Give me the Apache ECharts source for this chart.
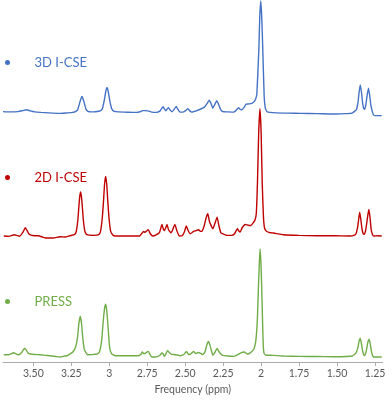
<!DOCTYPE html>
<html>
<head>
<meta charset="utf-8">
<script src="https://cdn.jsdelivr.net/npm/echarts@6/dist/echarts.min.js"></script>
<style>
html,body{margin:0;padding:0;background:#fff;}
#chart{width:392px;height:400px;}
</style>
</head>
<body>
<div id="chart"></div>
<script>
// Series names (top to bottom)
const seriesNames = ['3D I-CSE', '2D I-CSE', 'PRESS'];
// Tick positions (ppm) and their labels
const tickValues = [3.5, 3.25, 3, 2.75, 2.5, 2.25, 2, 1.75, 1.5, 1.25];
const tickLabels = ['3.50', '3.25', '3', '2.75', '2.50', '2.25', '2', '1.75', '1.50', '1.25'];

// Spectra: [ppm, intensity above the trace's own baseline] (arbitrary units)
const spec3D = [
  [3.70,0.8],[3.66,0.5],[3.60,0.8],[3.57,1.8],[3.545,2.7],[3.52,1.5],[3.49,0.5],[3.45,0],[3.40,-0.5],[3.33,-1],
  [3.28,-0.5],[3.24,0],[3.22,1],[3.207,3],[3.196,9],[3.186,14],[3.180,16],[3.174,14],[3.164,9],[3.153,3],
  [3.14,1],[3.12,0.5],[3.09,0.7],[3.06,1.5],[3.045,4],[3.033,12],[3.022,22],[3.015,25],[3.008,22],[2.997,12],
  [2.985,4],[2.968,1],[2.94,0.5],[2.88,0.2],[2.82,0],[2.80,0.5],[2.78,1.7],[2.765,1.8],[2.745,1.5],[2.72,0.3],
  [2.69,0],[2.665,1.5],[2.655,4],[2.645,5.7],[2.635,3],[2.627,1.7],[2.618,3.5],[2.610,4.7],[2.600,2.5],[2.588,0.7],
  [2.575,2.5],[2.559,6],[2.548,3],[2.535,0.3],[2.51,0.5],[2.495,2],[2.482,3.7],[2.470,1.5],[2.456,0.3],[2.44,1],
  [2.423,1.7],[2.40,3.3],[2.375,5],[2.355,9],[2.342,12.3],[2.330,9],[2.318,4.3],[2.305,8],[2.292,11.7],[2.28,8],
  [2.265,2.5],[2.252,0.7],[2.22,0.5],[2.182,0.3],[2.165,2],[2.149,4.7],[2.138,3],[2.127,2.7],[2.112,5],[2.099,8.3],
  [2.080,8.5],[2.061,9],[2.045,11],[2.035,14],[2.028,19],[2.015,63],[2.009,96],[2.002,112],[1.996,96],[1.989,63],
  [1.980,16],[1.972,4],[1.960,0.5],[1.90,-0.5],[1.82,-0.8],[1.74,-1],[1.63,-1.3],[1.52,-1.7],[1.45,-1.3],[1.40,-0.7],
  [1.385,1],[1.372,3],[1.362,10],[1.355,20],[1.347,27.7],[1.339,20],[1.332,10],[1.325,4],[1.318,3],[1.310,8],
  [1.302,17],[1.293,24.3],[1.285,17],[1.277,7],[1.268,1],[1.260,-2.5],[1.245,-3.3],[1.23,-3.3],[1.206,-3.3]
];
const spec2D = [
  [3.695,-0.3],[3.662,-0.7],[3.640,0.3],[3.625,1],[3.605,0],[3.590,-0.5],[3.575,2],[3.562,5.5],[3.553,8],[3.543,5.5],
  [3.530,2],[3.515,0.5],[3.49,0],[3.465,0],[3.44,-1.5],[3.421,-2.3],[3.37,-2.3],[3.322,-1],[3.29,-1.3],[3.26,0],
  [3.230,1],[3.218,4],[3.207,16],[3.199,32],[3.194,40],[3.189,44],[3.184,40],[3.179,32],[3.171,16],[3.160,4],
  [3.148,1],[3.10,0.3],[3.070,1],[3.058,4],[3.046,18],[3.038,35],[3.031,52],[3.024,59.7],[3.017,52],[3.010,35],
  [3.002,18],[2.992,5],[2.978,1],[2.961,-0.3],[2.90,-0.3],[2.80,-0.3],[2.785,2.5],[2.774,4.3],[2.765,3.5],[2.753,5],
  [2.743,6],[2.730,2],[2.712,-0.3],[2.695,0.5],[2.670,3],[2.653,11.3],[2.643,6],[2.636,5.3],[2.628,8],[2.620,11.3],
  [2.610,6],[2.594,3],[2.585,5],[2.568,11.3],[2.555,5],[2.539,-0.3],[2.520,0],[2.505,4],[2.493,9.7],[2.480,5],
  [2.467,2],[2.456,3],[2.445,4.3],[2.430,5],[2.412,6],[2.400,4.3],[2.390,4.3],[2.375,10],[2.362,18],[2.351,22],
  [2.340,14],[2.318,7],[2.305,12],[2.290,18.7],[2.278,10],[2.265,3],[2.255,2],[2.225,0.3],[2.193,0.3],[2.175,2],
  [2.156,7],[2.145,4.5],[2.138,3.7],[2.125,8],[2.105,11.3],[2.085,10.5],[2.068,10.3],[2.050,13.5],[2.040,16],[2.032,22],
  [2.024,54],[2.016,104],[2.008,127.7],[2.000,104],[1.993,54],[1.985,20],[1.978,8],[1.965,4.5],[1.94,3],[1.919,2.7],
  [1.853,1],[1.75,0.3],[1.634,0],[1.52,0],[1.414,-0.3],[1.390,0.3],[1.375,2],[1.365,8],[1.358,16],[1.351,23.7],
  [1.343,16],[1.336,7],[1.328,2],[1.320,1.5],[1.312,5],[1.304,13],[1.297,21],[1.290,26.3],[1.282,17],[1.275,6],
  [1.266,1],[1.258,-0.3],[1.23,0],[1.206,-0.3]
];
const specPRESS = [
  [3.695,0.3],[3.66,0.3],[3.630,2.3],[3.612,1],[3.597,0.3],[3.580,2],[3.567,5],[3.557,7],[3.547,5],[3.535,2],
  [3.520,1],[3.49,0.5],[3.454,0.3],[3.42,-0.3],[3.388,-0.7],[3.35,-1.5],[3.322,-2],[3.295,-1],[3.278,-0.7],[3.26,1],
  [3.24,3],[3.222,8],[3.209,18],[3.200,32],[3.191,39],[3.183,32],[3.175,18],[3.165,6],[3.150,1.5],[3.140,0.3],
  [3.10,0.7],[3.081,1],[3.065,3],[3.050,15],[3.040,34],[3.031,47],[3.024,51],[3.017,45],[3.008,28],[2.998,8],
  [2.985,1.5],[2.961,-0.7],[2.90,-0.7],[2.807,-0.7],[2.790,1],[2.783,3],[2.774,1.5],[2.765,1.5],[2.753,3],[2.743,3.7],
  [2.730,0],[2.719,-2],[2.700,-2],[2.680,-1.3],[2.665,0],[2.653,2],[2.645,1],[2.638,-1.3],[2.628,1],[2.616,4.7],
  [2.605,2.5],[2.594,1],[2.575,0.5],[2.550,0],[2.533,-0.7],[2.510,0.5],[2.491,3.7],[2.478,0.5],[2.465,1],[2.445,3.7],
  [2.432,1.5],[2.415,2.5],[2.401,2],[2.385,0.5],[2.370,3],[2.358,10],[2.347,13.7],[2.337,10],[2.325,3],[2.318,-0.3],
  [2.305,2.5],[2.290,6.7],[2.280,4],[2.265,1],[2.255,-0.3],[2.22,-1],[2.182,-1.3],[2.16,0],[2.130,2.5],[2.112,3],
  [2.095,1.5],[2.083,1],[2.065,3],[2.050,5.3],[2.040,10],[2.033,17],[2.025,35],[2.018,67],[2.012,92],[2.007,107],
  [2.001,92],[1.996,67],[1.990,30],[1.986,10],[1.981,2],[1.970,0],[1.919,-0.3],[1.853,-1],[1.743,-1.3],[1.634,-1.5],
  [1.524,-1.7],[1.44,-1.5],[1.40,-1],[1.385,0.5],[1.372,3],[1.362,8],[1.355,14],[1.348,17],[1.341,13],[1.334,6],
  [1.326,1],[1.320,-0.5],[1.313,1],[1.305,6],[1.297,13],[1.289,16],[1.281,11],[1.274,4],[1.266,-0.5],[1.260,-2],
  [1.23,-2],[1.206,-2]
];

const spectra = [spec3D, spec2D, specPRESS];
const colors = ['#4472C4', '#C00000', '#70AD47'];
const stackOffset = [251, 127, 7];   // vertical display offset of each trace
const legendTop = [51, 166, 290];
const FONT = 'Lato, "Open Sans", sans-serif';

const chart = echarts.init(document.getElementById('chart'), null, {renderer: 'canvas'});
chart.setOption({
  animation: false,
  backgroundColor: '#ffffff',
  color: colors,
  grid: {left: 3, right: 9.4, top: 0, bottom: 36, containLabel: false},
  legend: seriesNames.map((n, i) => ({
    data: [n],
    left: 0,
    top: legendTop[i],
    icon: 'circle',
    itemWidth: 24,
    itemHeight: 5,
    selectedMode: false,
    textStyle: {color: colors[i], fontSize: 13, fontFamily: FONT, padding: [0, 0, 0, 10]}
  })),
  xAxis: {
    type: 'value',
    inverse: true,
    min: 1.2,
    max: 3.7,
    name: 'Frequency (ppm)',
    nameLocation: 'middle',
    nameGap: 22,
    nameTextStyle: {color: '#595959', fontSize: 10.5, fontFamily: FONT},
    axisLine: {show: true, lineStyle: {color: '#ABABAB', width: 1}},
    axisTick: {show: true, customValues: tickValues, length: 4, inside: false, lineStyle: {color: '#ABABAB'}},
    axisLabel: {
      customValues: tickValues,
      margin: 6,
      color: '#595959', fontSize: 10.5, fontFamily: FONT,
      formatter: v => {
        const i = tickValues.findIndex(t => Math.abs(t - v) < 1e-6);
        return i >= 0 ? tickLabels[i] : '';
      }
    },
    splitLine: {show: false}
  },
  yAxis: {type: 'value', min: 0, max: 364, show: false},
  series: seriesNames.map((n, i) => ({
    name: n,
    type: 'line',
    showSymbol: false,
    symbol: 'none',
    smooth: 0.15,
    lineStyle: {color: colors[i], width: 1.4},
    itemStyle: {color: colors[i]},
    data: spectra[i].map(p => [p[0], p[1] + stackOffset[i]])
  }))
});
</script>
</body>
</html>
